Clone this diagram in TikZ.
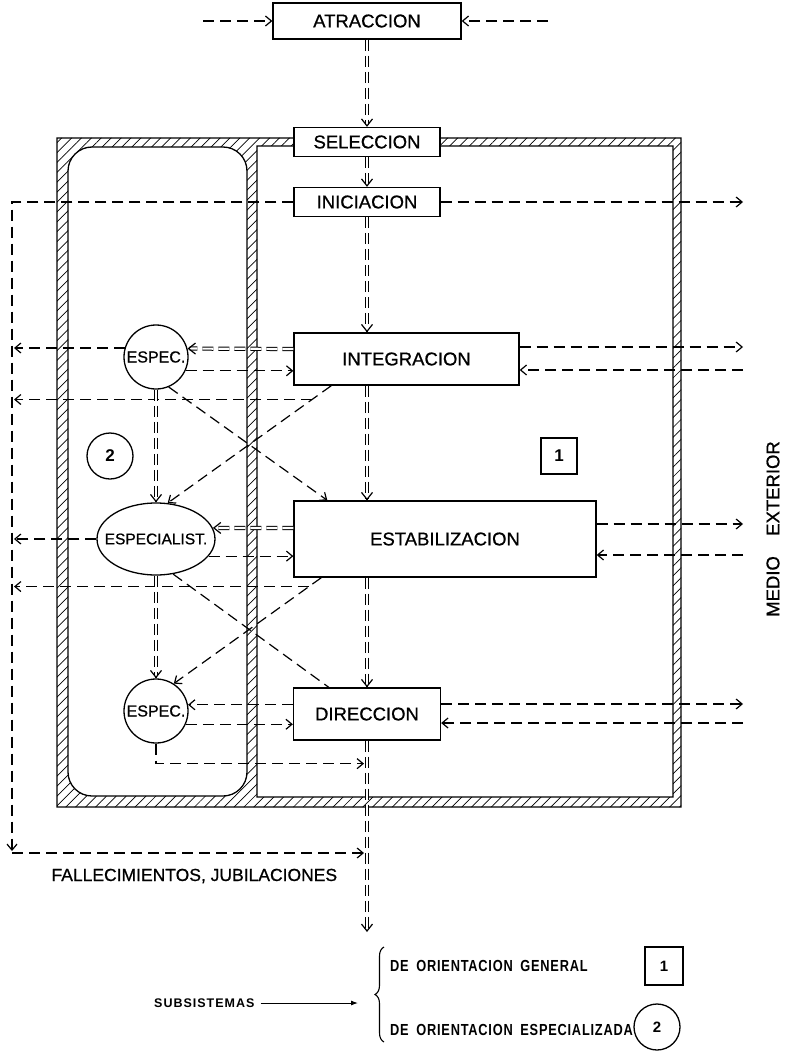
\documentclass[tikz,border=0pt]{standalone}
\usepackage{fontspec}
\setmainfont{Liberation Sans}
\newfontfamily\labfont[FakeBold=0.8]{Liberation Sans}
\newfontfamily\legfont[LetterSpace=6]{Liberation Sans}
\newfontfamily\subsfont[LetterSpace=8]{Liberation Sans}
\usetikzlibrary{arrows.meta,calc,patterns.meta,decorations.pathreplacing,shapes.geometric}
\tikzset{
  lw/.style={line width=1.3pt},
  box/.style={draw, line width=1.3pt, fill=white, inner sep=0pt, font=\labfont\fontsize{18.5}{20}\selectfont},
  dsh/.style={line width=1.2pt, dash pattern=on 11pt off 6pt},
  arr/.style={-{Straight Barb[length=6pt,width=10pt]}},
  dbl/.style={line width=1pt, double distance=2.2pt, dash pattern=on 11pt off 5pt},
  dtip/.style={line width=1.2pt, -{Straight Barb[length=7pt,width=11pt]}},
  circ/.style={circle, draw, line width=1.3pt, inner sep=0pt},
  espfont/.style={font=\labfont\fontsize{16}{18}\selectfont},
  numfont/.style={font=\bfseries\fontsize{17}{19}\selectfont},
  legtext/.style={anchor=west, inner sep=0pt, font=\legfont\bfseries\fontsize{16}{18}\selectfont},
}
\begin{document}
\begin{tikzpicture}[x=1pt,y=-1pt]
\useasboundingbox (0,0) rectangle (790,1051);

% hatched frame
\fill[pattern={Lines[angle=45,distance=7pt,line width=0.7pt]}, even odd rule]
  (57,138) rectangle (681,807)
  [rounded corners=24pt] (68,147) rectangle (247,796)
  [sharp corners] (257,146) rectangle (673,797);
\draw[lw]
  (57,138) rectangle (681,807)
  [rounded corners=24pt] (68,147) rectangle (247,796)
  [sharp corners] (257,146) rectangle (673,797);

% nodes
\node[box, minimum width=188pt, minimum height=36pt] (ATR) at (367,21) {ATRACCION};
\node[box, minimum width=146pt, minimum height=29pt] (SEL) at (367,142) {SELECCION};
\node[box, minimum width=146pt, minimum height=29pt] (INI) at (367,202) {INICIACION};
\node[box, minimum width=225pt, minimum height=52pt] (INT) at (406.5,359) {INTEGRACION};
\node[box, minimum width=302pt, minimum height=76pt] (EST) at (445,539) {ESTABILIZACION};
\node[box, minimum width=147pt, minimum height=52pt] (DIR) at (367,714) {DIRECCION};

\node[circ, minimum size=64pt, label={[espfont]center:ESPEC.}] (E1) at (156,357) {};
\node[ellipse, draw, line width=1.3pt, inner sep=0pt, minimum width=118pt, minimum height=72pt,
      label={[font=\labfont\fontsize{15.5}{17}\selectfont]center:ESPECIALIST.}] (E2) at (156,539) {};
\node[circ, minimum size=64pt, label={[espfont]center:ESPEC.}] (E3) at (156,711) {};

\node[circ, minimum size=46pt, numfont] (C2) at (110,456) {2};
\node[draw, lw, minimum size=36pt, inner sep=0pt, numfont] (S1) at (559,456) {1};
\node[rotate=90, font=\labfont\fontsize{18.5}{20}\selectfont] (MED) at (773,529) {MEDIO\hspace{1.1em}EXTERIOR};
\node[anchor=west, font=\labfont\fontsize{17.5}{20}\selectfont] (FALL) at (48,876) {FALLECIMIENTOS, JUBILACIONES};

% helper coordinates
\coordinate (mx) at (367,0);
\coordinate (Rx) at (743,0);
\coordinate (Lx) at (14,0);
\coordinate (AL) at (203,21);
\coordinate (AR) at (548,21);
\coordinate (LB) at (12,853);
\coordinate (outb) at (367,932);

% top arrows
\draw[dsh,arr] (AL) -- (ATR.west);
\draw[dsh,arr] (AR) -- (ATR.east);

% main double flow
\draw[dbl] (ATR.south) -- ($(SEL.north)+(0,-2)$);
\draw[dtip] ($(SEL.north)+(0,-1)$) -- (SEL.north);
\draw[dbl] (SEL.south) -- ($(INI.north)+(0,-2)$);
\draw[dtip] ($(INI.north)+(0,-1)$) -- (INI.north);
\draw[dbl] (INI.south) -- ($(mx |- INT.north)+(0,-2)$);
\draw[dtip] ($(mx |- INT.north)+(0,-1)$) -- (mx |- INT.north);
\draw[dbl] (mx |- INT.south) -- ($(mx |- EST.north)+(0,-2)$);
\draw[dtip] ($(mx |- EST.north)+(0,-1)$) -- (mx |- EST.north);
\draw[dbl] (mx |- EST.south) -- ($(DIR.north)+(0,-2)$);
\draw[dtip] ($(DIR.north)+(0,-1)$) -- (DIR.north);
\draw[dbl] (DIR.south) -- ($(outb)+(0,-2)$);
\draw[dtip] ($(outb)+(0,-1)$) -- (outb);

% iniciacion branches
\draw[dsh,arr] (INI.west) -| ($(LB)+(0,-2)$);
\draw[dsh,arr,shorten >=3pt] (LB) -- (mx |- LB);
\draw[dsh,arr] (INI.east) -- (INI.east -| Rx);

% right side exchanges
\coordinate (INTo) at ($(INT.east)+(0,-12)$);
\coordinate (INTi) at ($(INT.east)+(0,11)$);
\coordinate (ESTo) at ($(EST.east)+(0,-15)$);
\coordinate (ESTi) at ($(EST.east)+(0,16)$);
\coordinate (DIRo) at ($(DIR.east)+(0,-10)$);
\coordinate (DIRi) at ($(DIR.east)+(0,9)$);
\draw[dsh,arr] (INTo) -- (INTo -| Rx);
\draw[dsh,arr] (INTi -| Rx) -- (INTi);
\draw[dsh,arr] (ESTo) -- (ESTo -| Rx);
\draw[dsh,arr] (ESTi -| Rx) -- (ESTi);
\draw[dsh,arr] (DIRo) -- (DIRo -| Rx);
\draw[dsh,arr] (DIRi -| Rx) -- (DIRi);

% left side exits
\draw[dsh,arr] (E1.164) -- (E1.164 -| Lx);
\draw[dsh,arr] (E2.west) -- (E2.west -| Lx);

% diagonals
\coordinate (d1s) at ($(INT.south west)+(38,0)$);
\coordinate (d2s) at ($(EST.south west)+(28,0)$);
\draw[dsh,arr] (d1s) -- (E2.72);
\path (d1s) -- (E2.72) coordinate[pos=0.118] (b1);
\draw[dsh,arr] (b1) -- (b1 -| Lx);
\draw[dsh,arr] (E1.-67) -- ($(EST.north west)+(34,0)$);
\draw[dsh,arr] (d2s) -- (E3.57);
\path (d2s) -- (E3.57) coordinate[pos=0.084] (b2);
\draw[dsh,arr] (b2) -- (b2 -| Lx);
\draw[dsh] (E2.-64) -- ($(DIR.north west)+(36,0)$);

% specialised vertical chain
\draw[dbl] (E1.south) -- ($(E2.north)+(0,-2)$);
\draw[dtip] ($(E2.north)+(0,-1)$) -- (E2.north);
\draw[dbl] (E2.south) -- ($(E3.north)+(0,-2)$);
\draw[dtip] ($(E3.north)+(0,-1)$) -- (E3.north);

% horizontal exchanges general <-> specialised
\coordinate (h1) at ($(INT.west)+(0,-10)$);
\draw[dbl] (h1) -- ($(E1.15)+(2,0)$);
\draw[dtip] ($(E1.15)+(1,0)$) -- (E1.15);
\draw[dsh,arr] (E1.-25) -- (E1.-25 -| INT.west);
\coordinate (h2) at ($(EST.west)+(0,-11)$);
\draw[dbl] (h2) -- ($(E2.11)+(2,0)$);
\draw[dtip] ($(E2.11)+(1,0)$) -- (E2.11);
\draw[dsh,arr] (E2.-18) -- (E2.-18 -| EST.west);
\draw[dsh,arr] (E3.11 -| DIR.west) -- (E3.11);
\draw[dsh,arr] (E3.-24) -- (E3.-24 -| DIR.west);
\coordinate (e3b) at ($(E3.south)+(0,20)$);
\draw[dsh,arr,shorten >=3pt] (E3.south) -- (e3b) -- (e3b -| mx);

% legend
\node[anchor=west, inner sep=0pt, font=\subsfont\bfseries\fontsize{12.5}{14}\selectfont] (SUBS) at (154,1003) {SUBSISTEMAS};
\coordinate (subsarr) at (358,1003);
\draw[line width=1pt, -{Latex[length=7pt,width=5pt]}, shorten <=6pt] (SUBS.east) -- (subsarr);
\coordinate (bb) at (384,1042);
\coordinate (bt) at (384,947);
\draw[line width=1.1pt, decorate, decoration={brace, amplitude=9pt}] (bb) -- (bt);
\node[legtext] (L1) at (390,966) {\scalebox{0.8}[1]{DE\hspace{0.6em}ORIENTACION\hspace{0.6em}GENERAL}};
\node[legtext] (L2) at (390,1030) {\scalebox{0.8}[1]{DE\hspace{0.6em}ORIENTACION\hspace{0.6em}ESPECIALIZADA}};
\node[draw, lw, minimum size=38pt, inner sep=0pt, font=\bfseries\fontsize{15}{17}\selectfont] (LS1) at (664,966) {1};
\node[circ, minimum size=46pt, font=\bfseries\fontsize{15}{17}\selectfont] (LC2) at (657,1027) {2};
\end{tikzpicture}
\end{document}
